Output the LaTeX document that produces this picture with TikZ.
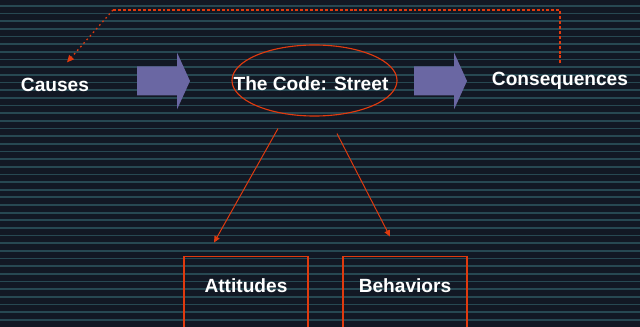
\documentclass[tikz,border=0pt]{standalone}
\usepackage{fontspec}
\setmainfont{Liberation Sans}
\usepackage{xcolor}
\usepackage{tikz}
\usetikzlibrary{shapes.geometric, arrows.meta, positioning, calc}

\definecolor{slidebg}{HTML}{121824}
\definecolor{slideline}{HTML}{274852}
\definecolor{flowred}{HTML}{E03A0E}
\definecolor{flowblue}{HTML}{6A67A3}

\begin{document}
\begin{tikzpicture}[x=0.025cm, y=-0.025cm,
    label/.style={text=white, font=\bfseries\fontsize{13.6}{16}\selectfont, inner sep=0pt, anchor=base},
    box/.style={label, draw=flowred, line width=1pt, minimum width=3.1cm, text height=0.9cm, text depth=1.5cm},
    link/.style={draw=flowred, line width=0.7pt, -{Triangle[length=4.5pt, width=4pt]}},
    feedback/.style={draw=flowred, line width=0.9pt, dash pattern=on 2.1pt off 1.4pt},
    blockarrow/.style={fill=flowblue}
]
    \useasboundingbox (0,0) rectangle (640,327);
    \clip (0,0) rectangle (640,327);
    % striped slide background
    \fill[slidebg] (0,0) rectangle (640,327);
    \foreach \i in {0,...,41}
        \fill[slideline] (0,{5+7.66*\i}) rectangle (640,{6.7+7.66*\i});

    \node[label] (causes) at (55,91.5) {Causes};
    \node[ellipse, draw=flowred, line width=0.8pt, minimum width=4.125cm, minimum height=1.775cm] (codering) at (314.5,80.5) {};
    \node[label] (code) at (311,91) {The Code: Street};
    \node[label] (cons) at (560,86) {Consequences};

    \node[box] (att) at (246,292.3) {Attitudes};
    \node[box] (beh) at (405,292.3) {Behaviors};

    \foreach \x in {137,414}
        \fill[blockarrow] (\x,66.5) -- ++(40,0) -- ++(0,-14) -- ++(13,28.5) -- ++(-13,28.5) -- ++(0,-14) -- ++(-40,0) -- cycle;

    \draw[link] ($(codering.south)+(-36.5,12)$) -- ($(att.north)+(-32,-13)$);
    \draw[link] ($(codering.south)+(22.5,17)$) -- ($(beh.north)+(-15,-19)$);

    % feedback loop back to the causes
    \coordinate (bend) at (113,10);
    \draw[feedback] ($(cons.north)+(0,-9)$) |- (bend);
    \draw[feedback, dash pattern=on 1.2pt off 2.2pt, -{Triangle[length=5pt, width=4.5pt]}] (bend) -- ($(causes.north)+(12,-15.5)$);
\end{tikzpicture}
\end{document}
